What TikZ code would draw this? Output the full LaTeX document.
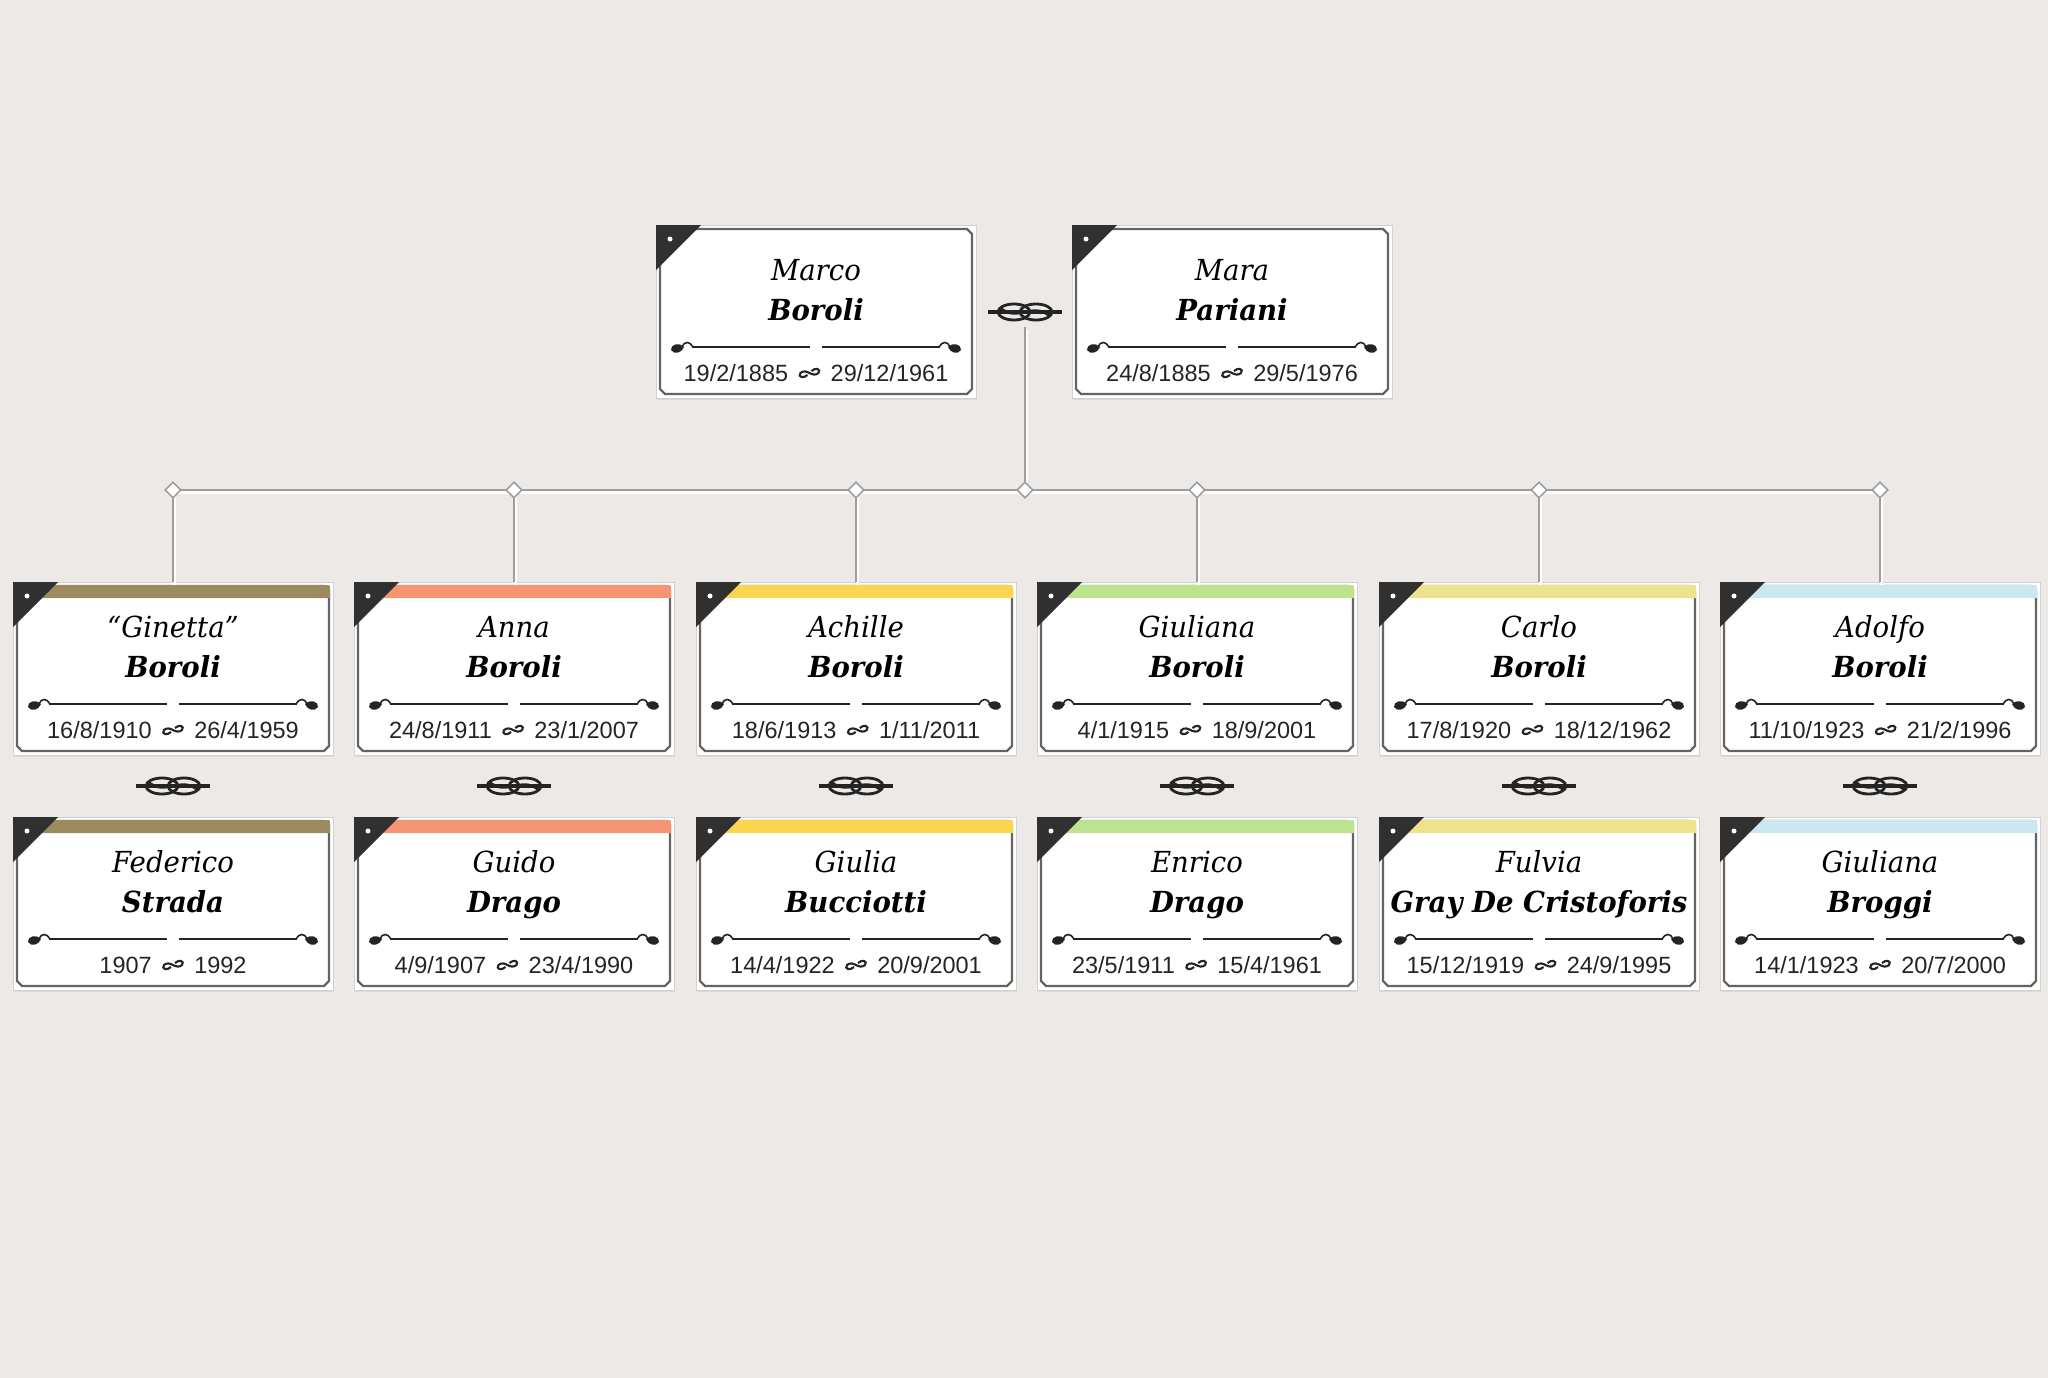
\documentclass[tikz,border=0pt]{standalone}
\usepackage{fontspec}
\usetikzlibrary{shapes.geometric,shadows}
\newfontfamily\namefont[FakeStretch=0.95]{DejaVu Serif}
\newfontfamily\datefont{Liberation Sans}
\definecolor{paper}{RGB}{236,233,230}
\definecolor{linegray}{RGB}{158,158,158}
\definecolor{framegray}{RGB}{100,100,100}
\definecolor{cornerdark}{RGB}{48,48,48}
\definecolor{inkdark}{RGB}{36,36,36}
\definecolor{barkhaki}{RGB}{155,139,95}
\definecolor{barsalmon}{RGB}{245,149,116}
\definecolor{baryellow}{RGB}{249,213,80}
\definecolor{bargreen}{RGB}{190,227,143}
\definecolor{barstraw}{RGB}{237,227,140}
\definecolor{barsky}{RGB}{203,232,240}
\tikzset{
  card/.style={rectangle, draw=black!18, fill=white, line width=1pt, minimum width=320pt, minimum height=173pt, inner sep=0pt, outer sep=0pt, anchor=north west, drop shadow={opacity=0.14, shadow xshift=1pt, shadow yshift=-2pt}},
  cardframe/.style={draw=framegray, line width=2.2pt},
  divline/.style={draw=inkdark, line width=2.2pt},
  curl/.style={draw=inkdark, line width=1.6pt},
  knotline/.style={draw=inkdark, line width=2.8pt},
  conn/.style={draw=linegray, line width=2.6pt, preaction={draw=white, line width=2.6pt, transform canvas={xshift=1.5pt, yshift=-2.6pt}}},
  junct/.style={diamond, draw=linegray, fill=white, line width=1.6pt, minimum size=16pt, inner sep=0pt},
  knotbox/.style={rectangle, minimum width=76pt, minimum height=30pt, inner sep=0pt},
  firstname/.style={font=\namefont\itshape\fontsize{29}{32}\selectfont, text=black, anchor=base},
  lastname/.style={font=\namefont\bfseries\itshape\fontsize{29}{32}\selectfont, text=black, anchor=base},
  dates/.style={font=\datefont\fontsize{23.5}{27}\selectfont, text=inkdark, anchor=base}
}
\newcommand{\swash}{\tikz[x=1pt,y=1pt,baseline=-8pt,line width=2.1pt]\draw[inkdark] (-2,-2) .. controls (-6,-6) and (-12,-4) .. (-9,0) .. controls (-6,3) and (-2,1) .. (0,0) .. controls (2,-1) and (6,-3) .. (9,0) .. controls (12,4) and (6,6) .. (2,2);}
\newcommand{\person}[8]{%
  \begin{scope}[shift={(#2,#3)}]
    \node[card] (#1) at (0,0) {};
    \draw[cardframe] (4,9) -- (4,164) -- (9,169) -- (311,169) -- (316,164) -- (316,9) -- (311,4) -- (9,4) -- cycle;
    \path[fill=#4] (3,16) -- (3,3) -- (313,3) .. controls (317,3) .. (317,7) -- (317,16) -- cycle;
    \fill[cornerdark] (0,0) -- (45,0) -- (0,45) -- cycle;
    \fill[white] (14,14) circle (2.5);
    \node[firstname] (#1f) at (160,55) {#5};
    \node[lastname] (#1l) at (160,95) {#6};
    \draw[divline] (36,122) -- (154,122) (166,122) -- (284,122);
    \fill[inkdark] (15,125) .. controls (14,119) and (24,117) .. (28,122) .. controls (26,128) and (18,130) .. (15,125);
    \draw[curl] (26,122) .. controls (28,116) and (34,116) .. (37,122);
    \fill[inkdark] (305,125) .. controls (306,119) and (296,117) .. (292,122) .. controls (294,128) and (302,130) .. (305,125);
    \draw[curl] (294,122) .. controls (292,116) and (286,116) .. (283,122);
    \node[dates] (#1d) at (160,156) {#7\hspace{0.35em}\swash\hspace{0.35em}#8};
  \end{scope}}
\newcommand{\knot}[3]{%
  \node[knotbox] (#1) at (#2,#3) {};
  \begin{scope}[shift={(#2,#3)}]
    \draw[knotline, line width=3.4pt] (-37,0) -- (37,0);
    \draw[knotline] (-11,0) ellipse (16 and 8);
    \draw[knotline] (11,0) ellipse (16 and 8);
    \draw[knotline] (-25,-4) .. controls (-8,10) and (8,-10) .. (25,4);
  \end{scope}}
\begin{document}
\begin{tikzpicture}[x=1pt,y=-1pt]
\fill[paper] (0,0) rectangle (2048,1378);
\useasboundingbox (0,0) rectangle (2048,1378);

\person{pid0}{656}{225}{none}{Marco}{Boroli}{19/2/1885}{29/12/1961}
\person{pid1}{1072}{225}{none}{Mara}{Pariani}{24/8/1885}{29/5/1976}

\person{pid2}{13}{582}{barkhaki}{“Ginetta”}{Boroli}{16/8/1910}{26/4/1959}
\person{pid3}{354}{582}{barsalmon}{Anna}{Boroli}{24/8/1911}{23/1/2007}
\person{pid4}{696}{582}{baryellow}{Achille}{Boroli}{18/6/1913}{1/11/2011}
\person{pid5}{1037}{582}{bargreen}{Giuliana}{Boroli}{4/1/1915}{18/9/2001}
\person{pid6}{1379}{582}{barstraw}{Carlo}{Boroli}{17/8/1920}{18/12/1962}
\person{pid7}{1720}{582}{barsky}{Adolfo}{Boroli}{11/10/1923}{21/2/1996}

\person{pid8}{13}{817}{barkhaki}{Federico}{Strada}{1907}{1992}
\person{pid9}{354}{817}{barsalmon}{Guido}{Drago}{4/9/1907}{23/4/1990}
\person{pid10}{696}{817}{baryellow}{Giulia}{Bucciotti}{14/4/1922}{20/9/2001}
\person{pid11}{1037}{817}{bargreen}{Enrico}{Drago}{23/5/1911}{15/4/1961}
\person{pid12}{1379}{817}{barstraw}{Fulvia}{Gray De Cristoforis}{15/12/1919}{24/9/1995}
\person{pid13}{1720}{817}{barsky}{Giuliana}{Broggi}{14/1/1923}{20/7/2000}

\knot{knot0}{1025}{312}
\knot{knot1}{173}{786}
\knot{knot2}{514}{786}
\knot{knot3}{856}{786}
\knot{knot4}{1197}{786}
\knot{knot5}{1539}{786}
\knot{knot6}{1880}{786}

\coordinate (jm) at (1025,490);
\coordinate (j0) at (173,490);
\coordinate (j1) at (514,490);
\coordinate (j2) at (856,490);
\coordinate (j3) at (1197,490);
\coordinate (j4) at (1539,490);
\coordinate (j5) at (1880,490);
\draw[conn] (j0) -- (j5);
\draw[conn] (knot0.south) -- (jm);
\draw[conn] (j0) -- (pid2.north);
\draw[conn] (j1) -- (pid3.north);
\draw[conn] (j2) -- (pid4.north);
\draw[conn] (j3) -- (pid5.north);
\draw[conn] (j4) -- (pid6.north);
\draw[conn] (j5) -- (pid7.north);
\node[junct] (dm) at (jm) {};
\node[junct] (d0) at (j0) {};
\node[junct] (d1) at (j1) {};
\node[junct] (d2) at (j2) {};
\node[junct] (d3) at (j3) {};
\node[junct] (d4) at (j4) {};
\node[junct] (d5) at (j5) {};
\end{tikzpicture}
\end{document}
